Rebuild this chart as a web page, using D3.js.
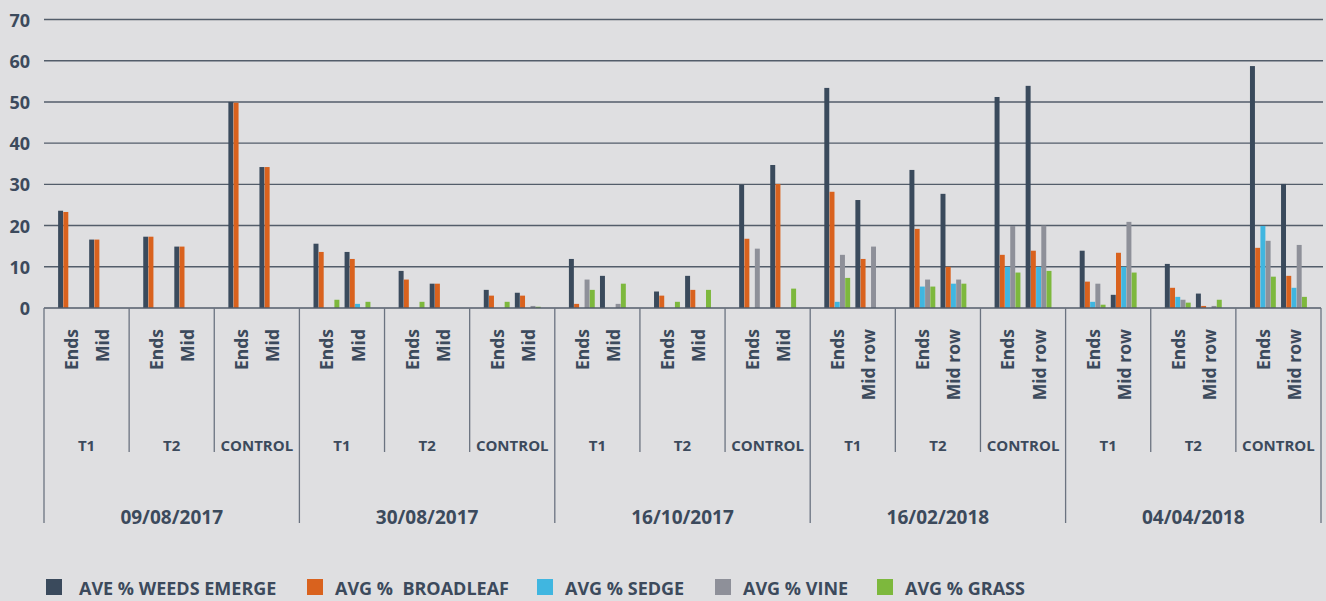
<!DOCTYPE html>
<html>
<head>
<meta charset="utf-8">
<script src="https://cdn.jsdelivr.net/npm/d3@7"></script>
<style>
  html, body { margin: 0; padding: 0; background: #dfdfe1; }
  svg { display: block; }
  text { font-family: "Open Sans", sans-serif; font-weight: 700; fill: #3c4a5c; }
</style>
</head>
<body>
<svg id="chart" width="1326" height="601"></svg>
<script>
// categories
const dates = ['09/08/2017', '30/08/2017', '16/10/2017', '16/02/2018', '04/04/2018'];
const treatments = ['T1', 'T2', 'CONTROL'];
const positionsByDate = [
    ['Ends', 'Mid'], ['Ends', 'Mid'], ['Ends', 'Mid'],
    ['Ends', 'Mid row'], ['Ends', 'Mid row']
];
const seriesNames = ['AVE % WEEDS EMERGE', 'AVG %  BROADLEAF', 'AVG % SEDGE', 'AVG % VINE', 'AVG % GRASS'];
const seriesColors = ['#3a4a5c', '#d9621e', '#40b6e0', '#8e9099', '#7db83d'];
const yTicks = [0, 10, 20, 30, 40, 50, 60, 70];

// values, order: date > treatment > Ends/Mid
const weeds     = [23.6, 16.6, 17.3, 14.9, 50.0, 34.2,  15.6, 13.6, 9.0, 5.9, 4.4, 3.7,  11.9, 7.8, 4.0, 7.8, 29.9, 34.7,  53.4, 26.2, 33.5, 27.7, 51.2, 53.9,  13.9, 3.2, 10.7, 3.5, 58.7, 30.1];
const broadleaf = [23.3, 16.6, 17.3, 14.9, 49.8, 34.2,  13.6, 11.9, 6.9, 5.9, 3.0, 3.0,  1.0, 0, 3.0, 4.4, 16.8, 30.1,  28.2, 11.9, 19.2, 10.0, 12.9, 13.9,  6.4, 13.4, 4.9, 0.5, 14.6, 7.8];
const sedge     = [0, 0, 0, 0, 0, 0,  0, 1.0, 0, 0, 0, 0,  0, 0, 0, 0, 0, 0,  1.5, 0, 5.2, 5.9, 10.0, 10.0,  1.5, 10.0, 2.7, 0, 19.9, 4.9];
const vine      = [0, 0, 0, 0, 0, 0,  0, 0, 0, 0, 0, 0.5,  6.9, 1.0, 0, 0, 14.4, 0,  12.9, 14.9, 6.9, 6.9, 19.9, 20.0,  5.9, 20.9, 2.0, 0.5, 16.3, 15.3];
const grass     = [0, 0, 0, 0, 0, 0,  2.0, 1.5, 1.5, 0, 1.5, 0.3,  4.4, 5.9, 1.5, 4.4, 0, 4.7,  7.3, 0, 5.2, 5.9, 8.6, 9.0,  0.8, 8.6, 1.3, 2.0, 7.6, 2.7];

const seriesValues = [weeds, broadleaf, sedge, vine, grass];

const svg = d3.select('#chart');
const plotLeft = 44, plotRight = 1321, plotTop = 19.5, base = 308;

const y = d3.scaleLinear().domain([0, 70]).range([base, plotTop]);
const x0 = d3.scaleBand().domain(d3.range(dates.length)).range([plotLeft, plotRight]);
const x1 = d3.scaleBand().domain(d3.range(treatments.length)).range([0, x0.bandwidth()]);
const x2 = d3.scaleBand().domain([0, 1]).range([0, x1.bandwidth()]).paddingOuter(0.37);
const x3 = d3.scaleBand().domain(d3.range(seriesNames.length)).range([0, x2.bandwidth()])
    .paddingInner(0.05).paddingOuter(0.5);

// grid
svg.append('g')
    .selectAll('line')
    .data(yTicks.slice(1))
    .join('line')
    .attr('x1', plotLeft).attr('x2', 1323)
    .attr('y1', d => y(d)).attr('y2', d => y(d))
    .attr('stroke', '#535d6a').attr('stroke-width', 1.4);

// y labels
svg.append('g')
    .selectAll('text')
    .data(yTicks)
    .join('text')
    .attr('x', 30).attr('y', d => y(d))
    .attr('text-anchor', 'end').attr('dominant-baseline', 'central')
    .style('font-size', '18px')
    .text(d => d);

// rows of data
const rows = [];
dates.forEach((dt, di) => {
    treatments.forEach((tr, ti) => {
        [0, 1].forEach(pi => {
            const idx = di * 6 + ti * 2 + pi;
            rows.push({ di, ti, pi, label: positionsByDate[di][pi],
                values: seriesValues.map(s => s[idx]) });
        });
    });
});
const catX = d => x0(d.di) + x1(d.ti) + x2(d.pi);

// bars
const cats = svg.append('g').selectAll('g')
    .data(rows)
    .join('g')
    .attr('transform', d => `translate(${catX(d)},0)`);

cats.selectAll('rect')
    .data(d => d.values.map((v, si) => ({ v, si })).filter(e => e.v > 0))
    .join('rect')
    .attr('x', e => x3(e.si))
    .attr('width', x3.bandwidth())
    .attr('y', e => y(e.v))
    .attr('height', e => base - y(e.v))
    .attr('fill', e => seriesColors[e.si]);

// x axis line
svg.append('line')
    .attr('x1', plotLeft).attr('x2', plotRight)
    .attr('y1', base).attr('y2', base)
    .attr('stroke', '#535d6a').attr('stroke-width', 1.4);

// position labels
svg.append('g').selectAll('text')
    .data(rows)
    .join('text')
    .attr('transform', d => `translate(${catX(d) + x2.bandwidth() / 2},329) rotate(-90)`)
    .attr('text-anchor', 'end').attr('dominant-baseline', 'central')
    .style('font-size', '17.5px')
    .text(d => d.label);

// treatment dividers and labels
const trRows = [];
dates.forEach((dt, di) => treatments.forEach((tr, ti) => trRows.push({ di, ti, tr })));

svg.append('g').selectAll('line')
    .data(trRows.filter(d => d.ti > 0))
    .join('line')
    .attr('x1', d => x0(d.di) + x1(d.ti)).attr('x2', d => x0(d.di) + x1(d.ti))
    .attr('y1', base).attr('y2', 452)
    .attr('stroke', '#6b7380').attr('stroke-width', 1.3);

svg.append('g').selectAll('text')
    .data(trRows)
    .join('text')
    .attr('x', d => x0(d.di) + x1(d.ti) + x1.bandwidth() / 2)
    .attr('y', 445)
    .attr('text-anchor', 'middle').attr('dominant-baseline', 'central')
    .style('font-size', '15px')
    .text(d => d.tr);

// date dividers and labels
svg.append('g').selectAll('line')
    .data(d3.range(dates.length + 1))
    .join('line')
    .attr('x1', i => i < dates.length ? x0(i) : plotRight)
    .attr('x2', i => i < dates.length ? x0(i) : plotRight)
    .attr('y1', base).attr('y2', 523)
    .attr('stroke', '#6b7380').attr('stroke-width', 1.3);

svg.append('g').selectAll('text')
    .data(dates)
    .join('text')
    .attr('x', (d, i) => x0(i) + x0.bandwidth() / 2)
    .attr('y', 517)
    .attr('text-anchor', 'middle').attr('dominant-baseline', 'central')
    .style('font-size', '19px')
    .text(d => d);

// legend
const legendX = [46, 307, 537, 715, 877];
const legend = svg.append('g').selectAll('g')
    .data(seriesNames)
    .join('g')
    .attr('transform', (d, i) => `translate(${legendX[i]},579)`);

legend.append('rect')
    .attr('width', 16).attr('height', 16)
    .attr('fill', (d, i) => seriesColors[i]);

legend.append('text')
    .attr('x', (d, i) => i === 0 ? 33 : 28)
    .attr('y', 8.5)
    .attr('dominant-baseline', 'central')
    .style('font-size', '18px')
    .style('white-space', 'pre')
    .text(d => d);
</script>
</body>
</html>
